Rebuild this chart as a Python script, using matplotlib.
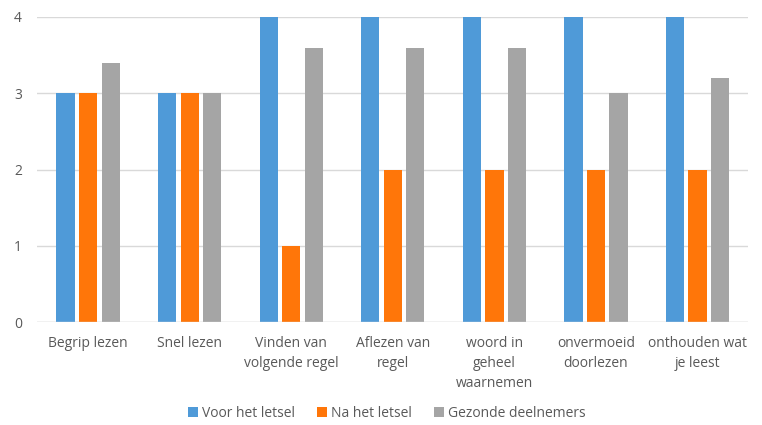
import numpy as np
import matplotlib
matplotlib.use("Agg")
import matplotlib.pyplot as plt

# ── Data ──────────────────────────────────────────────────────────────────────
categories = ["Begrip lezen", "Snel lezen", "Vinden van\nvolgende regel",
              "Aflezen van\nregel", "woord in\ngeheel\nwaarnemen",
              "onvermoeid\ndoorlezen", "onthouden wat\nje leest"]
voor_letsel = [3, 3, 4, 4, 4, 4, 4]
na_letsel = [3, 3, 1, 2, 2, 2, 2]
gezond = [3.4, 3, 3.6, 3.6, 3.6, 3, 3.2]
series_names = ["Voor het letsel", "Na het letsel", "Gezonde deelnemers"]
y_ticks = [0, 1, 2, 3, 4]

colors = ["#4f9ad8", "#ff7609", "#a5a5a5"]
text_col = "#595959"

plt.rcParams["font.family"] = ["Open Sans", "DejaVu Sans"]

fig = plt.figure(figsize=(7.62, 4.25), dpi=100)
ax = fig.add_axes([0.049, 0.242, 0.933, 0.718])

x = np.arange(len(categories))
w = 0.18
step = 0.222
for i, (vals, name) in enumerate(zip([voor_letsel, na_letsel, gezond], series_names)):
    ax.bar(x + (i - 1) * step, vals, width=w, color=colors[i], label=name, zorder=3)

ax.set_xlim(-0.5, len(categories) - 0.5)
ax.set_ylim(0, 4)
ax.set_yticks(y_ticks)
ax.set_xticks(x)
ax.set_xticklabels(categories, fontsize=10, color=text_col, linespacing=1.45)
ax.tick_params(axis="y", labelsize=10, labelcolor=text_col, length=0, pad=11)
ax.tick_params(axis="x", length=0, pad=10)
ax.yaxis.grid(True, color="#d9d9d9", linewidth=1, zorder=0)
for s in ax.spines.values():
    s.set_visible(False)
ax.axhline(0, color="#d9d9d9", linewidth=1, zorder=4)

fig.legend(loc="center", bbox_to_anchor=(0.508, 0.028), ncol=3, frameon=False,
           fontsize=10, labelcolor=text_col, handlelength=0.7, handleheight=0.7,
           handletextpad=0.3, columnspacing=1.6)

fig.savefig("out.png", dpi=100)
